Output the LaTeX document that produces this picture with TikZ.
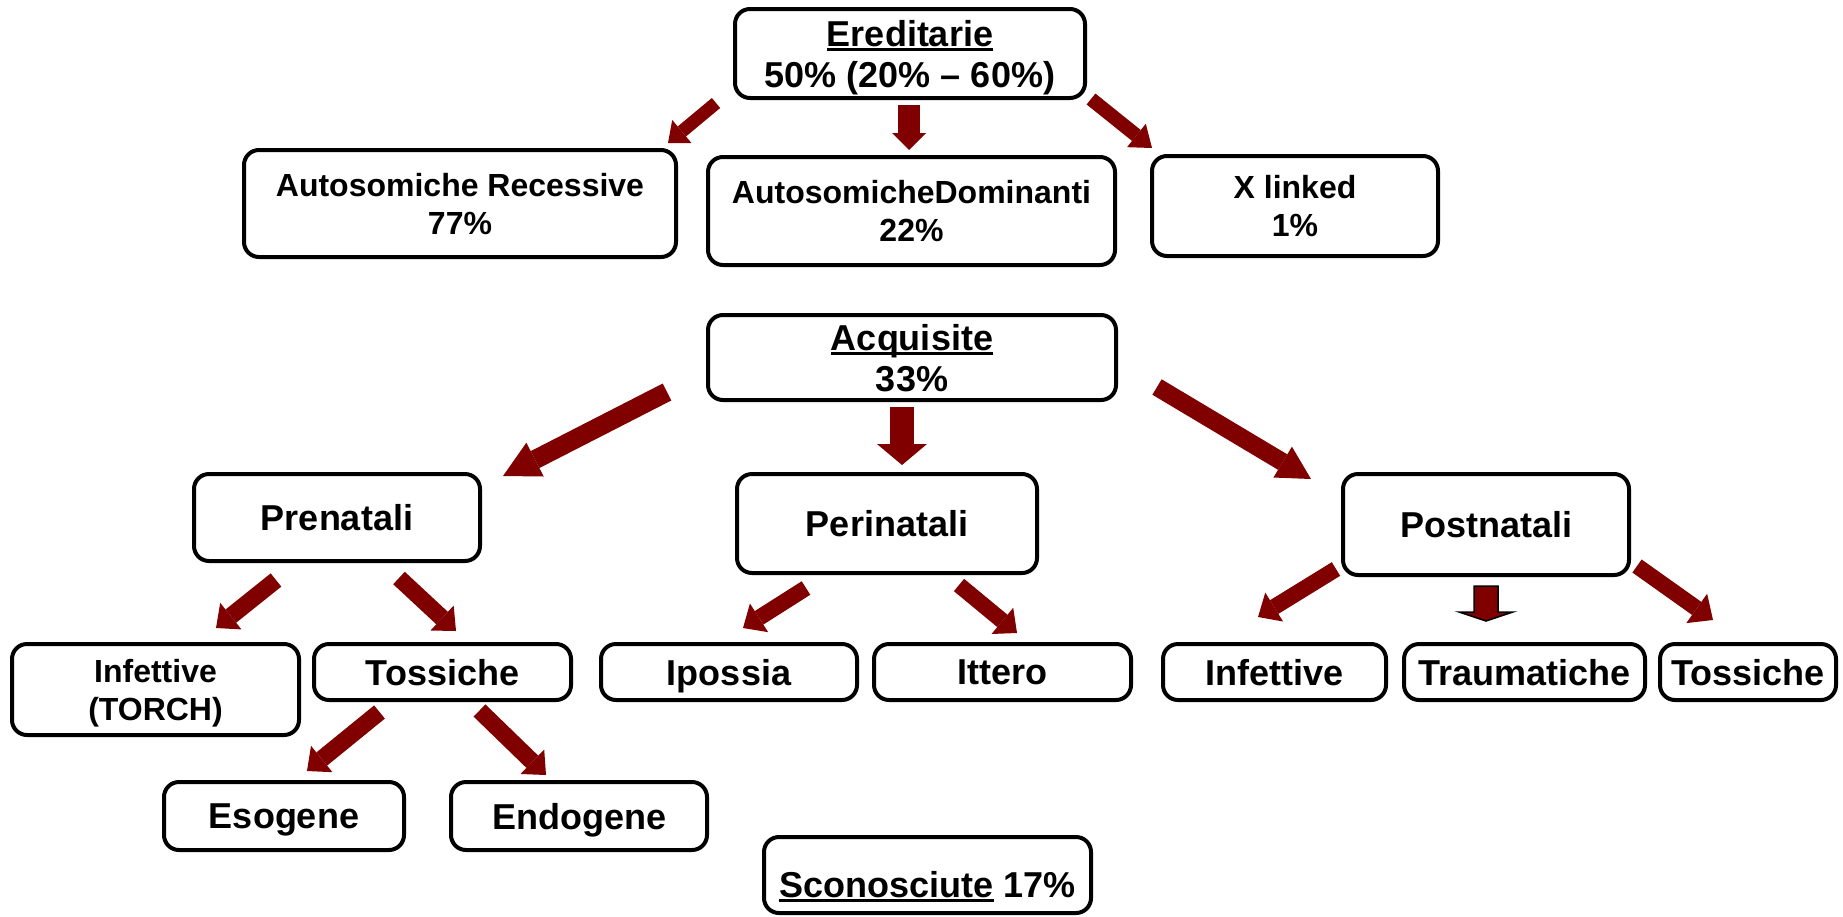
\documentclass[tikz,border=0pt]{standalone}
\usepackage{fontspec}
\setmainfont{Liberation Sans}
\usetikzlibrary{arrows.meta}
\definecolor{arrowred}{HTML}{800000}
\newcommand\ulx[1]{\setbox0\hbox{#1}\rlap{\rule[-5pt]{\wd0}{3pt}}\box0\relax}
\tikzset{
  box/.style={draw, line width=4pt, rounded corners=15pt, inner sep=0pt, align=center,
    text depth=0pt, font=\bfseries\fontsize{36}{41}\selectfont},
  smalltext/.style={font=\bfseries\fontsize{32}{38}\selectfont},
  blk/.style n args={3}{draw=arrowred, line width=#1,
    -{Triangle[width=#2, length=#3, line width=0pt]}},
  flatarrow/.style={fill=arrowred, draw=black, line width=1.5pt, line join=miter},
}
\begin{document}
\begin{tikzpicture}[x=1pt,y=-1pt]
\useasboundingbox (0,0) rectangle (1843,916);

% boxes
\node[box, minimum width=350pt, minimum height=89pt] (ered) at (910,53.5)
  {\ulx{Ereditarie}\\50\% (20\% -- 60\%)};
\node[box, smalltext, minimum width=432pt, minimum height=107pt] (ar) at (460,203.5)
  {Autosomiche Recessive\\77\%};
\node[box, smalltext, minimum width=407pt, minimum height=108pt] (ad) at (911.5,211)
  {AutosomicheDominanti\\22\%};
\node[box, smalltext, minimum width=286pt, minimum height=100pt] (xl) at (1295,206)
  {X linked\\1\%};
\node[box, minimum width=408pt, minimum height=85pt] (acq) at (912,357.5)
  {\ulx{Acquisite}\\33\%};
\node[box, minimum width=286pt, minimum height=87pt] (pre) at (337,517.5) {Prenatali};
\node[box, minimum width=300pt, minimum height=99pt] (peri) at (887,523.5) {Perinatali};
\node[box, minimum width=286pt, minimum height=101pt] (post) at (1486,524.5) {Postnatali};
\node[box, smalltext, minimum width=287pt, minimum height=91pt] (inf1) at (155.5,689.5)
  {Infettive\\(TORCH)};
\node[box, minimum width=257pt, minimum height=56pt] (tos1) at (442.5,672) {Tossiche};
\node[box, minimum width=256pt, minimum height=56pt] (ipo) at (729,672) {Ipossia};
\node[box, minimum width=257pt, minimum height=56pt] (itt) at (1002.5,672) {Ittero};
\node[box, minimum width=223pt, minimum height=56pt] (inf2) at (1274.5,672) {Infettive};
\node[box, minimum width=241pt, minimum height=56pt] (trau) at (1524.5,672) {Traumatiche};
\node[box, minimum width=176pt, minimum height=56pt] (tos2) at (1748,672) {Tossiche};
\node[box, minimum width=240pt, minimum height=68pt] (eso) at (284,816) {Esogene};
\node[box, minimum width=256pt, minimum height=68pt] (endo) at (579,816) {Endogene};
\node[box, text height=44pt, minimum width=327pt, minimum height=76pt] (scon) at (927.5,875)
  {\ulx{Sconosciute} 17\%};

% arrow end points
\coordinate (e1s) at (716,103);   \coordinate (e1e) at (668,143);
\coordinate (e2s) at (909,105);   \coordinate (e2e) at (909,150);
\coordinate (e3s) at (1091,99);   \coordinate (e3e) at (1152,148);
\coordinate (a1s) at (667,392);   \coordinate (a1e) at (503,476);
\coordinate (a2s) at (902,407);   \coordinate (a2e) at (902,465);
\coordinate (a3s) at (1157,387);  \coordinate (a3e) at (1311,479);
\coordinate (p1s) at (276,580);   \coordinate (p1e) at (216,628);
\coordinate (p2s) at (399,578);   \coordinate (p2e) at (456,631);
\coordinate (t1s) at (379.5,712); \coordinate (t1e) at (307,771);
\coordinate (t2s) at (479.5,710.5); \coordinate (t2e) at (546,775);
\coordinate (r1s) at (806,588);   \coordinate (r1e) at (743,628);
\coordinate (r2s) at (959,585);   \coordinate (r2e) at (1017,633);
\coordinate (o1s) at (1336,569);  \coordinate (o1e) at (1258,617);
\coordinate (o2s) at (1637,566);  \coordinate (o2e) at (1713,620);
\coordinate (trtop) at (1486,586);

% arrows
\draw[blk={13pt}{30pt}{18pt}] (e1s) -- (e1e);
\draw[blk={22pt}{34pt}{17pt}] (e2s) -- (e2e);
\draw[blk={14pt}{30pt}{20pt}] (e3s) -- (e3e);
\draw[blk={19pt}{38pt}{36pt}] (a1s) -- (a1e);
\draw[blk={24pt}{50pt}{21pt}] (a2s) -- (a2e);
\draw[blk={18pt}{36pt}{33pt}] (a3s) -- (a3e);
\draw[blk={17pt}{34pt}{19pt}] (p1s) -- (p1e);
\draw[blk={17pt}{34pt}{19pt}] (p2s) -- (p2e);
\draw[blk={17pt}{34pt}{19pt}] (t1s) -- (t1e);
\draw[blk={17pt}{34pt}{19pt}] (t2s) -- (t2e);
\draw[blk={16pt}{34pt}{19pt}] (r1s) -- (r1e);
\draw[blk={16pt}{34pt}{19pt}] (r2s) -- (r2e);
\draw[blk={16pt}{34pt}{19pt}] (o1s) -- (o1e);
\draw[blk={16pt}{36pt}{20pt}] (o2s) -- (o2e);
\draw[flatarrow] (trtop) ++(-12,0) -- ++(24,0) -- ++(0,26) -- ++(15,0)
  -- ++(-27,9) -- ++(-27,-9) -- ++(15,0) -- cycle;
\end{tikzpicture}
\end{document}
